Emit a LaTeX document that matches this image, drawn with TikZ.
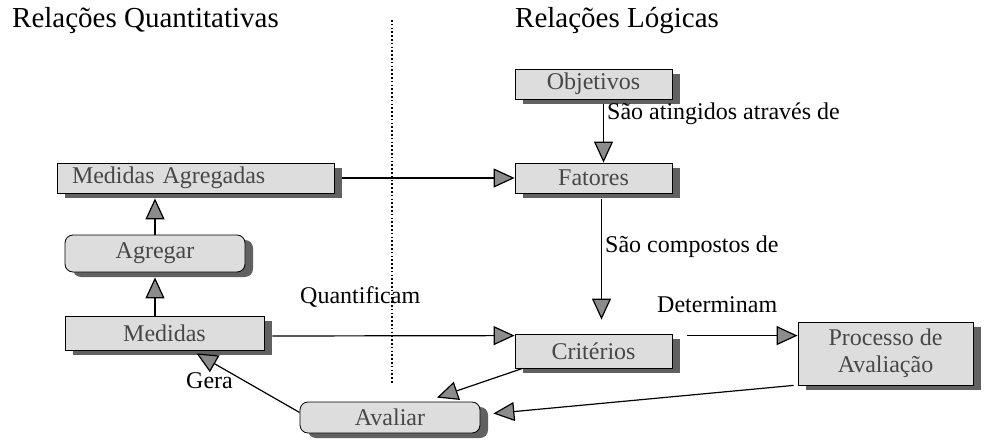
\documentclass[tikz,border=0pt]{standalone}
\usepackage{fontspec}
\setmainfont{Liberation Serif}
\usetikzlibrary{arrows.meta,shadows}
\begin{document}
\begin{tikzpicture}[x=1pt,y=-1pt,
  box/.style={draw=black, line width=0.8pt, fill=gray!27, text=black!72,
    font=\fontsize{24}{27}\selectfont, inner sep=0pt, align=center,
    drop shadow={shadow xshift=8pt, shadow yshift=-5pt, fill=black!62, opacity=1}},
  rbox/.style={box, rounded corners=8pt},
  lbl/.style={font=\fontsize{24}{26}\selectfont, inner sep=0pt},
  ttl/.style={font=\fontsize{29}{31}\selectfont, inner sep=0pt},
  arr/.style={line width=1.2pt, -{Triangle[length=21pt,width=19pt,fill=black!45]}},
]
\useasboundingbox (0,0) rectangle (985,441);

% titles
\node[ttl, anchor=base west] (tq) at (12,28) {Relações Quantitativas};
\node[ttl, anchor=base west] (tl) at (515,28) {Relações Lógicas};

% dotted separator
\coordinate (dtop) at (392,20);
\coordinate (dbot) at (392,384);
\draw[line width=1.6pt, dash pattern=on 1.6pt off 2.2pt] (dtop) -- (dbot);

% boxes
\node[box, minimum width=157pt, minimum height=30pt] (obj) at (593.5,84) {Objetivos};
\node[box, minimum width=157pt, minimum height=30pt] (fat) at (593.5,178) {Fatores};
\node[box, minimum width=157pt, minimum height=34pt] (crit) at (593.5,351) {Critérios};
\node[box, minimum width=175pt, minimum height=63pt] (proc) at (885.5,353.5) {Processo de\\Avaliação};
\node[box, minimum width=277pt, minimum height=30pt, inner xsep=15pt, text width=247pt, align=left] (magg) at (195.5,178) {Medidas Agregadas};
\node[rbox, minimum width=180pt, minimum height=37pt] (agr) at (155,253.5) {Agregar};
\node[box, minimum width=199pt, minimum height=34pt] (med) at (164.5,333) {Medidas};
\node[rbox, minimum width=180pt, minimum height=31pt] (aval) at (390,417.5) {Avaliar};

% connectors
\draw[arr] ([xshift=10pt,yshift=-5pt]obj.south) -- ([xshift=10pt]fat.north);
\draw[arr] ([xshift=8pt,yshift=-6pt]fat.south) -- ([xshift=8pt,yshift=14pt]crit.north);
\draw[arr] ([xshift=8pt]magg.east) -- (fat.west);
\draw[arr] (agr.north) -- ([yshift=-5pt]agr.north |- magg.south);
\draw[arr] (agr.south |- med.north) -- ([yshift=-5pt]agr.south);
\draw[arr] ([xshift=8pt,yshift=-3pt]med.east) -- ([yshift=-2pt]crit.north west);
\coordinate (d0) at ([xshift=15pt,yshift=-2pt]crit.north east);
\draw[arr] (d0) -- (d0 -| proc.west);
\draw[arr] ([xshift=8pt]crit.south west) -- ([xshift=47pt,yshift=4pt]aval.north);
\draw[arr] ([xshift=-4pt]proc.south west) -- ([xshift=13pt,yshift=4pt]aval.east);
\draw[arr] ([yshift=5pt]aval.west) -- ([xshift=32pt,yshift=-3pt]med.south);

% labels
\node[lbl, anchor=base west] (l1) at (607,120) {São atingidos através de};
\node[lbl, anchor=base west] (l2) at (605,252) {São compostos de};
\node[lbl, anchor=base west] (l3) at (657,312) {Determinam};
\node[lbl, anchor=base west] (l4) at (300,303) {Quantificam};
\node[lbl, anchor=base west] (l5) at (186,388) {Gera};
\end{tikzpicture}
\end{document}
